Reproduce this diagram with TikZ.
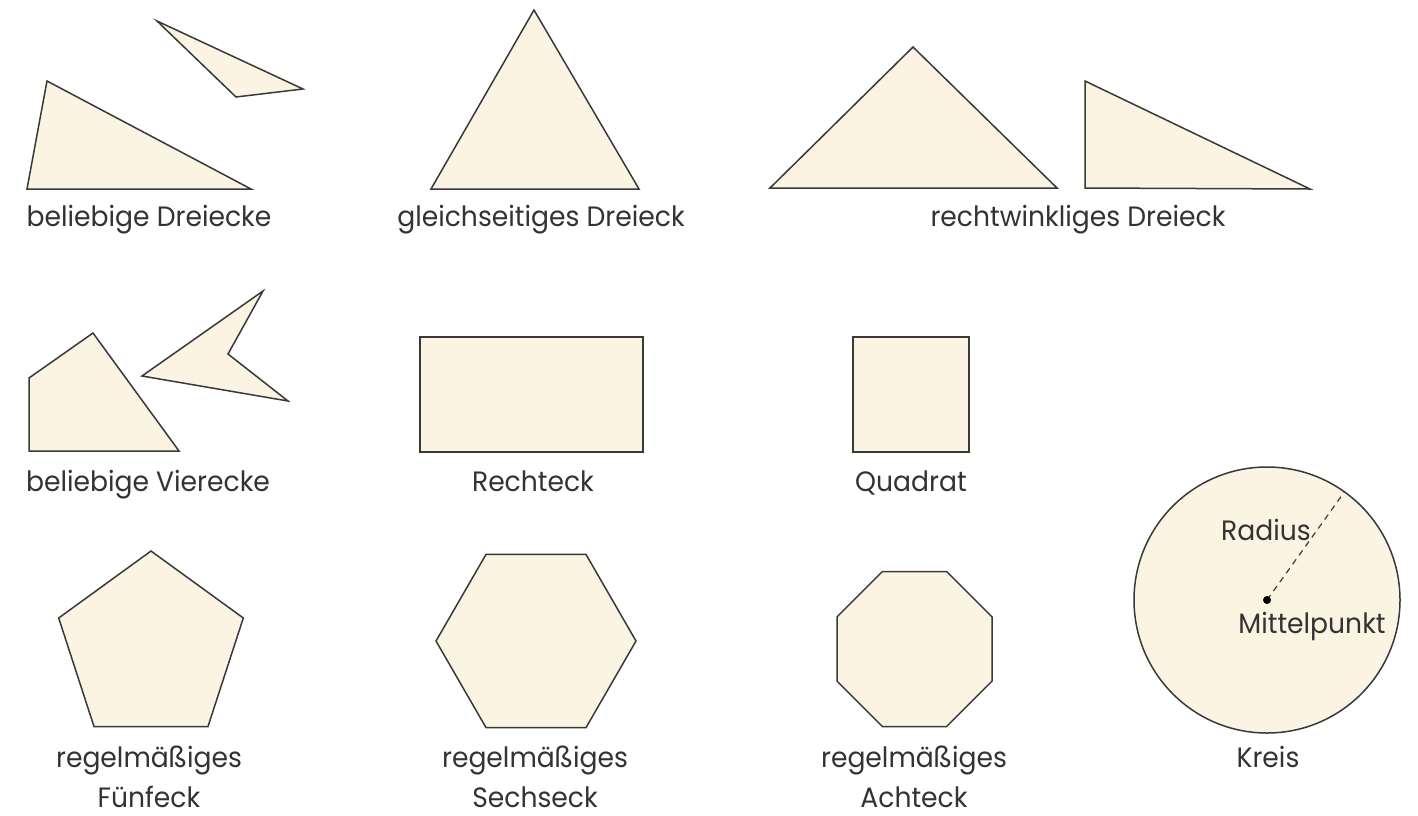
\documentclass[tikz,border=0pt]{standalone}
\usepackage{fontspec}
\setmainfont{Poppins}[FakeStretch=0.95]
\begin{document}
\begin{tikzpicture}[x=0.5pt,y=-0.5pt,
  shp/.style={draw=linec, fill=shapefill, line width=0.75pt, line join=miter},
  lbl/.style={text=textc, font=\fontsize{14}{20}\selectfont, inner sep=0pt, anchor=base, align=center}]
\definecolor{shapefill}{HTML}{FCF4E3}
\definecolor{linec}{HTML}{3A3838}
\definecolor{textc}{HTML}{333333}
\useasboundingbox[fill=white] (0,0) rectangle (1418,815);
% row 1
\draw[shp] (47,81) -- (27,189) -- (251,189) -- cycle;
\draw[shp] (157,21) -- (303,89) -- (236,97) -- cycle;
\draw[shp] (534,10) -- (639,189) -- (431,189) -- cycle;
\draw[shp] (770,188) -- (913,47) -- (1057,188) -- cycle;
\draw[shp] (1085,81) -- (1310,189) -- (1085,188) -- cycle;
\node[lbl] (t1) at (149,226) {beliebige Dreiecke};
\node[lbl] (t2) at (541,226) {gleichseitiges Dreieck};
\node[lbl] (t3) at (1078,226) {rechtwinkliges Dreieck};
% row 2
\draw[shp] (29,378) -- (93,333) -- (179,451) -- (29,451) -- cycle;
\draw[shp] (263,291) -- (228,354) -- (288,401) -- (142,376) -- cycle;
\draw[shp] (420,337) rectangle (643,452);
\draw[shp] (853,337) rectangle (969,452);
\node[lbl] (t4) at (148,491) {beliebige Vierecke};
\node[lbl] (t5) at (533,491) {Rechteck};
\node[lbl] (t6) at (911,491) {Quadrat};
% row 3
\draw[shp] (151,551) -- (243.3,618) -- (208,726.5) -- (94,726.5) -- (58.7,618) -- cycle;
\draw[shp] (636,641) -- (586,554.4) -- (486,554.4) -- (436,641) -- (486,727.6) -- (586,727.6) -- cycle;
\draw[shp] (882.4,571.5) -- (946.6,571.5) -- (992,616.9) -- (992,681.1) -- (946.6,726.5) -- (882.4,726.5) -- (837,681.1) -- (837,616.9) -- cycle;
\coordinate (mp) at (1267,600);
\coordinate (rp) at (1344.4,491.9);
\draw[shp] (mp) circle[radius=133*0.5pt];
\draw[linec, line width=0.6pt, dash pattern=on 3pt off 2.5pt] (mp) -- (rp);
\fill[black] (mp) circle[radius=2pt];
\node[lbl] (t7) at (149,807) {regelmäßiges\\Fünfeck};
\node[lbl] (t8) at (535,807) {regelmäßiges\\Sechseck};
\node[lbl] (t9) at (914,807) {regelmäßiges\\Achteck};
\node[lbl] (t10) at (1268,767) {Kreis};
\node[lbl] (t11) at (1266,540) {Radius};
\node[lbl] (t12) at (1312,633) {Mittelpunkt};
\end{tikzpicture}
\end{document}
